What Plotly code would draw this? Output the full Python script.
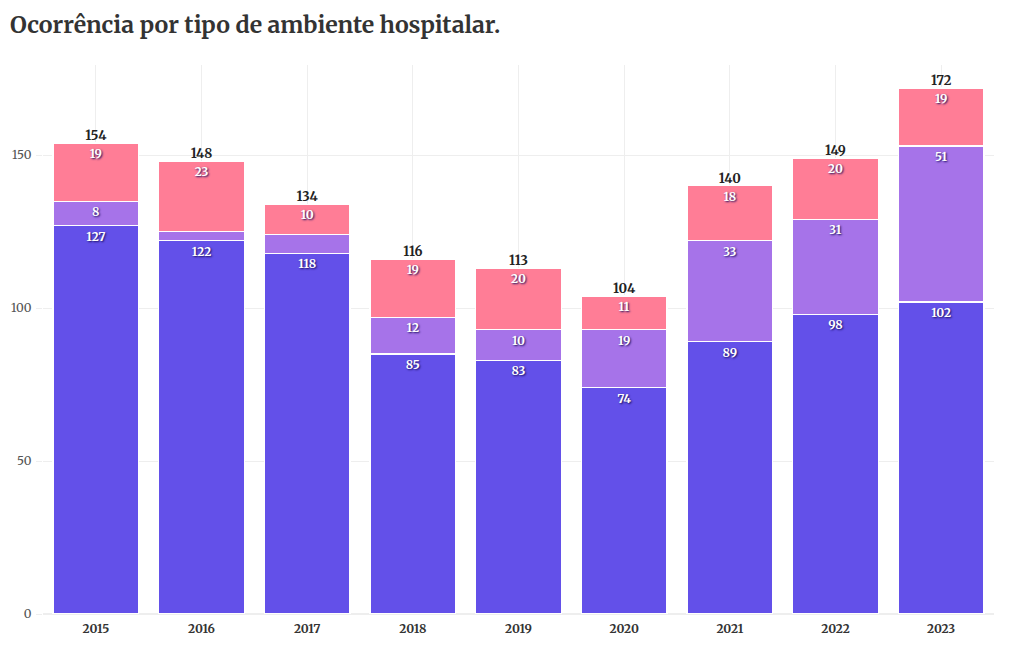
import plotly.graph_objects as go

years = ["2015", "2016", "2017", "2018", "2019", "2020", "2021", "2022", "2023"]
s_bottom = [127, 122, 118, 85, 83, 74, 89, 98, 102]
s_middle = [8, 3, 6, 12, 10, 19, 33, 31, 51]
s_top = [19, 23, 10, 19, 20, 11, 18, 20, 19]
names = ["Ambiente A", "Ambiente B", "Ambiente C"]
colors = ["#6350E9", "#A673E9", "#FF7D96"]

totals = [a + b + c for a, b, c in zip(s_bottom, s_middle, s_top)]

FONT = "Merriweather, DejaVu Serif, serif"

fig = go.Figure()
for name, vals, col in zip(names, [s_bottom, s_middle, s_top], colors):
    fig.add_trace(go.Bar(
        x=years, y=vals, name=name,
        marker=dict(color=col, line=dict(color="white", width=1.2)),
        text=[str(v) if v >= 7 else "" for v in vals],
        textposition="inside", insidetextanchor="end",
        textfont=dict(family=FONT, size=12, color="white", weight="bold",
                      shadow="1px 1px 2px #1a1060"),
        constraintext="none",
        hoverinfo="x+y+name",
    ))

fig.add_trace(go.Scatter(
    x=years, y=totals, mode="text", text=[str(t) for t in totals],
    textposition="top center",
    textfont=dict(family=FONT, size=13, color="#222", weight="bold"),
    showlegend=False, hoverinfo="skip",
))

fig.update_layout(
    barmode="stack", bargap=0.19,
    width=1020, height=650,
    margin=dict(l=43, r=26, t=65, b=36),
    paper_bgcolor="white", plot_bgcolor="white",
    showlegend=False,
    font=dict(family=FONT, color="#444"),
    title=dict(text="<b>Ocorrência por tipo de ambiente hospitalar.</b>",
               x=0.0098, xanchor="left", y=0.962, yanchor="middle",
               font=dict(family=FONT, size=23, color="#333")),
    xaxis=dict(showgrid=True, gridcolor="#eeeeee",
               tickfont=dict(size=12, color="#333", weight="bold"),
               showline=False, ticks="", ticklabelstandoff=6),
    yaxis=dict(range=[0, 179.5], tickvals=[0, 50, 100, 150], gridcolor="#eeeeee",
               zeroline=True, zerolinecolor="#eeeeee",
               ticks="outside", ticklen=6, tickcolor="#eeeeee",
               ticklabelstandoff=2,
               tickfont=dict(size=12, color="#555")),
)

fig.write_html("out.html", post_script="document.body.style.margin='0';",
               config={"displayModeBar": False})
